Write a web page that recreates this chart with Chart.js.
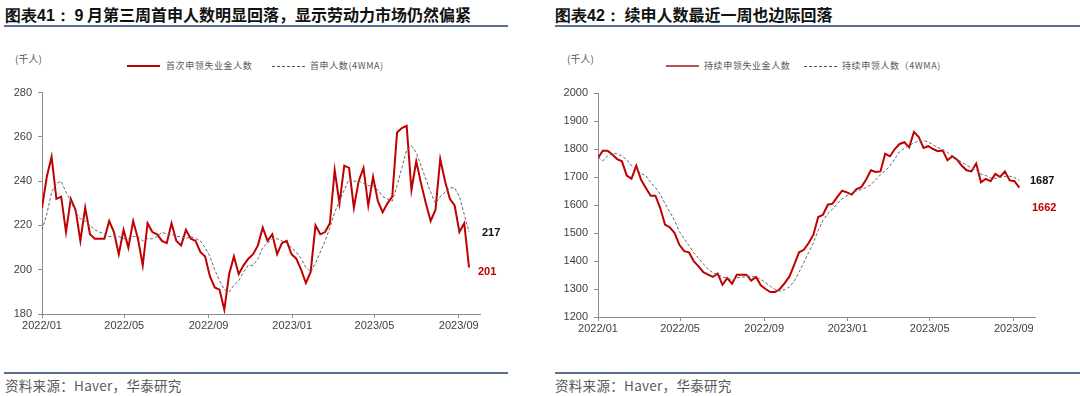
<!DOCTYPE html>
<html>
<head>
<meta charset="utf-8">
<script src="https://cdn.jsdelivr.net/npm/chart.js@4"></script>
<style>
  body { margin: 0; width: 1080px; height: 396px; background: #fff; position: relative; overflow: hidden;
         font-family: "Noto Sans CJK SC", "Liberation Sans", sans-serif; }
  .abs { position: absolute; white-space: nowrap; }
  .title { font-size: 16px; font-weight: bold; color: #111; top: 3px; line-height: 22px; }
  .title b { font-family: "Liberation Sans", Arial, sans-serif; }
  .rule { position: absolute; height: 2px; background: #5a7191; }
  .unit { font-size: 10px; color: #595959; top: 51px; }
  .leg { font-size: 9px; color: #595959; top: 60px; letter-spacing: 0.6px; line-height: 12px; }
  .src { font-size: 13.5px; color: #595959; top: 375px; letter-spacing: 0.3px; }
  .swatch { position: absolute; }
  canvas { position: absolute; }
</style>
</head>
<body>
<div class="abs title" style="left:5px"><b>图表41：</b> <b>9</b> 月第三周首申人数明显回落，显示劳动力市场仍然偏紧</div>
<div class="rule" style="left:4px; width:504px; top:25px"></div>
<div class="abs title" style="left:555px"><b>图表42：</b> 续申人数最近一周也边际回落</div>
<div class="rule" style="left:555px; width:525px; top:25px"></div>

<div class="abs unit" style="left:15px">(千人)</div>
<div class="swatch" style="left:127px; top:65px; width:33px; height:2px; background:#c00000"></div>
<div class="abs leg" style="left:166px">首次申领失业金人数</div>
<div class="swatch" style="left:272px; top:66px; width:33px; border-top:1px dashed #555"></div>
<div class="abs leg" style="left:310px">首申人数(4WMA)</div>

<div class="abs unit" style="left:567px">(千人)</div>
<div class="swatch" style="left:666px; top:65px; width:33px; height:2px; background:#b5524f"></div>
<div class="abs leg" style="left:704px">持续申领失业金人数</div>
<div class="swatch" style="left:804px; top:66px; width:33px; border-top:1px dashed #555"></div>
<div class="abs leg" style="left:842px">持续申领人数（4WMA)</div>

<canvas id="c1" width="510" height="260" style="left:0; top:80px"></canvas>
<canvas id="c2" width="540" height="260" style="left:540px; top:80px"></canvas>

<div class="rule" style="left:4px; width:504px; top:372px"></div>
<div class="rule" style="left:555px; width:525px; top:372px"></div>
<div class="abs src" style="left:5px">资料来源：Haver，华泰研究</div>
<div class="abs src" style="left:555px">资料来源：Haver，华泰研究</div>

<script>
// weekly data, first week ends 2022-01-01
const initialClaims = [228,242,251,232,233,217,232,227,213,228,216,214,214,214,222,217,207,218,210,222,
  214,202,221,217,216,213,212,221,213,211,218,214,213,208,206,197,192,191,182,198,
  206,198,202,205,207,211,219,213,216,207,212,213,207,205,200,194,199,220,216,217,
  221,245,230,247,246,228,240,246,229,242,231,226,230,233,262,264,265,236,249,239,
  230,222,227,250,240,232,229,217,221,201];
const initial4wma = [218,225,235,239,240,235,231,226,223,222,220,218,217,216,215,215,215,214,214,215,
  215,213,214,214,215,217,216,216,215,215,214,215,214,213,210,206,200,195,191,190,
  193,195,199,202,202,205,210,212,214,214,213,212,210,208,205,201,199,203,208,213,
  219,226,231,236,241,240,240,239,238,238,236,233,232,231,238,246,254,256,253,247,
  241,235,230,233,235,237,237,233,225,217];
const continuedClaims = [1768,1794,1794,1780,1764,1756,1705,1694,1740,1690,
  1661,1633,1633,1589,1530,1520,1500,1458,1435,1431,
  1399,1381,1360,1351,1343,1355,1315,1339,1319,1351,
  1351,1351,1330,1343,1313,1300,1289,1289,1300,1321,
  1345,1387,1431,1440,1464,1494,1557,1565,1601,1605,
  1629,1651,1645,1637,1657,1664,1690,1724,1718,1720,
  1783,1774,1800,1818,1824,1806,1861,1843,1804,1810,
  1800,1792,1795,1760,1774,1762,1740,1724,1720,1748,
  1681,1693,1685,1711,1700,1720,1688,1685,1662];
const continued4wma = [1770,1758,1775,1785,1783,1775,1762,1740,1730,1712,
  1705,1680,1662,1638,1605,1575,1545,1505,1480,1455,
  1430,1410,1390,1370,1358,1352,1342,1340,1332,1340,
  1342,1345,1345,1342,1335,1322,1310,1298,1292,1298,
  1308,1328,1360,1395,1430,1465,1510,1545,1570,1585,
  1605,1622,1633,1642,1650,1655,1662,1672,1690,1708,
  1722,1740,1765,1790,1803,1812,1822,1828,1830,1825,
  1815,1805,1797,1788,1775,1765,1752,1742,1732,1725,
  1710,1705,1697,1695,1700,1702,1703,1698,1687];

// x ticks: days since 2022-01-01
const xTickDays = [0, 120, 243, 365, 485, 608];
const xTickLabels = ['2022/01', '2022/05', '2022/09', '2023/01', '2023/05', '2023/09'];

const toXY = arr => arr.map((v, i) => ({x: i * 7, y: v}));

const endLabels = {
  id: 'endLabels',
  afterDraw(chart, args, opts) {
    const ctx = chart.ctx, ys = chart.scales.y;
    ctx.save();
    ctx.font = 'bold 11px "Liberation Sans", Arial, sans-serif';
    ctx.textBaseline = 'middle';
    opts.items.forEach(it => {
      ctx.fillStyle = it.color;
      ctx.fillText(String(it.value), chart.chartArea.right + it.dx, ys.getPixelForValue(it.value) + it.dy);
    });
    ctx.restore();
  }
};

function makeChart(id, red, dash, redColor, yMin, yMax, yStep, yWidth, pad, xHeight, labels) {
  const tickFont = {family: '"Liberation Sans", Arial, sans-serif', size: 11};
  return new Chart(document.getElementById(id), {
    type: 'line',
    data: {
      datasets: [
        {data: toXY(dash), borderColor: '#666', borderWidth: 1, borderDash: [3, 2], pointRadius: 0, tension: 0},
        {data: toXY(red), borderColor: redColor, borderWidth: 2, pointRadius: 0, tension: 0}
      ]
    },
    options: {
      responsive: false,
      animation: false,
      devicePixelRatio: 1,
      layout: {padding: pad},
      plugins: {legend: {display: false}, tooltip: {enabled: false}, endLabels: {items: labels}},
      scales: {
        x: {
          type: 'linear', min: 0, max: 639,
          afterBuildTicks: s => { s.ticks = xTickDays.map(v => ({value: v})); },
          afterFit: s => { s.height = xHeight; },
          ticks: {
            callback: v => xTickLabels[xTickDays.indexOf(v)],
            font: tickFont, color: '#404040', padding: 1, maxRotation: 0, autoSkip: false
          },
          grid: {drawOnChartArea: false, drawTicks: true, tickLength: 4, color: '#8c8c8c'},
          border: {color: '#8c8c8c', width: 1}
        },
        y: {
          min: yMin, max: yMax,
          afterFit: s => { s.width = yWidth; },
          ticks: {stepSize: yStep, callback: v => String(v), font: tickFont, color: '#404040', padding: 6},
          grid: {drawOnChartArea: false, drawTicks: true, tickLength: 4, color: '#8c8c8c'},
          border: {color: '#8c8c8c', width: 1}
        }
      }
    },
    plugins: [endLabels]
  });
}

makeChart('c1', initialClaims, initial4wma, '#c00000', 180, 280, 20, 42,
  {left: 0, top: 8, right: 30, bottom: 0}, 26,
  [{value: 217, color: '#111', dx: 2, dy: 1}, {value: 201, color: '#c00000', dx: -2, dy: 4}]);

makeChart('c2', continuedClaims, continued4wma, '#c00000', 1200, 2000, 100, 58,
  {left: 0, top: 13, right: 45, bottom: 0}, 23,
  [{value: 1687, color: '#111', dx: -5, dy: 0}, {value: 1662, color: '#c00000', dx: -3, dy: 20}]);
</script>
</body>
</html>
